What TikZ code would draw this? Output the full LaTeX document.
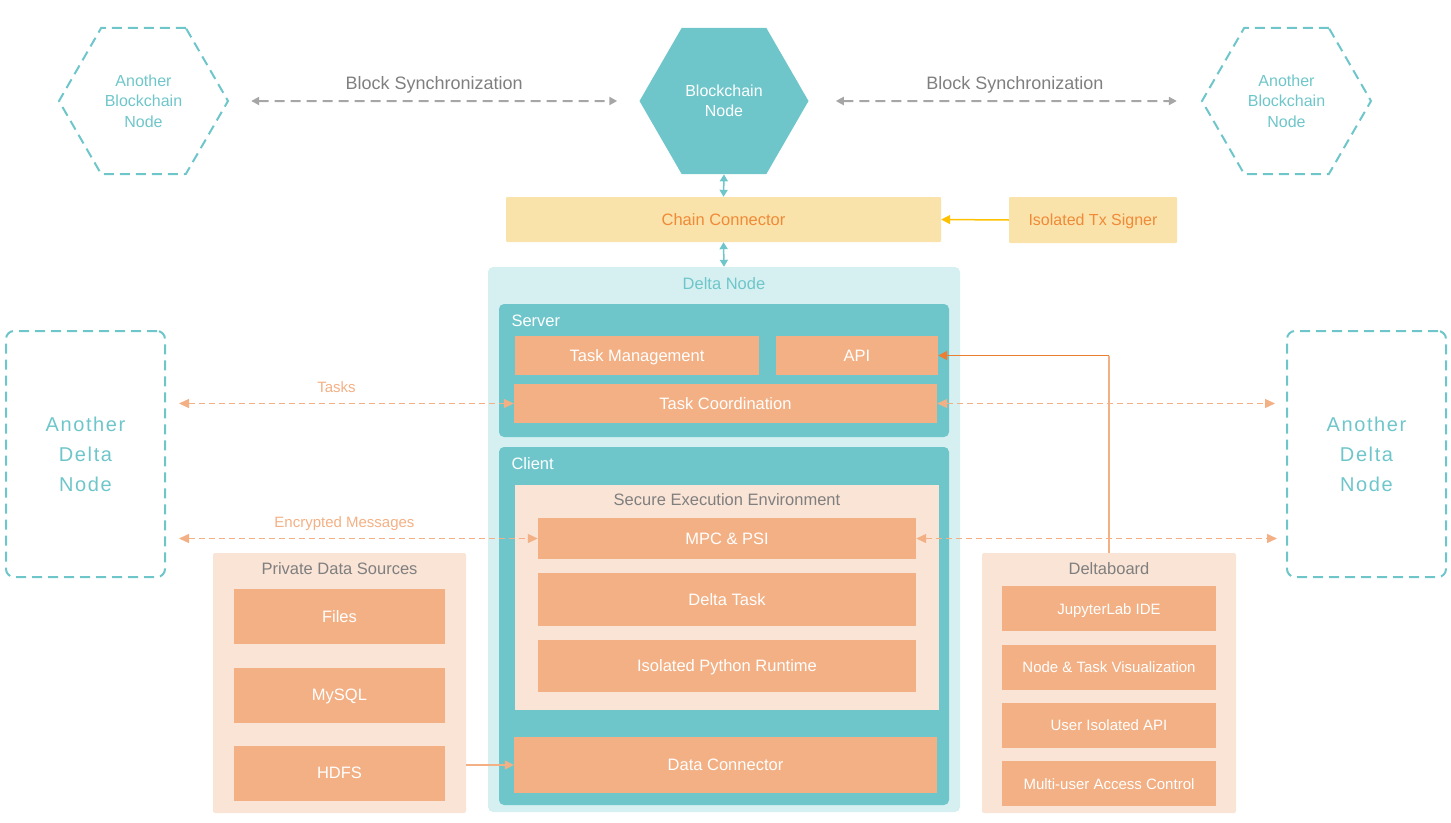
\documentclass[tikz,border=0pt]{standalone}
\usepackage{fontspec}
\setmainfont{Liberation Sans}
\newfontfamily\widefont[LetterSpace=8]{Liberation Sans}
\usetikzlibrary{shapes.geometric,arrows.meta,positioning}
\definecolor{dteal}{HTML}{6EC6CA}
\definecolor{dlteal}{HTML}{D6F0F1}
\definecolor{dpeach}{HTML}{F3B084}
\definecolor{dlpeach}{HTML}{FAE4D6}
\definecolor{dyellow}{HTML}{FAE3AA}
\definecolor{dorange}{HTML}{F08A38}
\definecolor{darrow}{HTML}{ED7D31}
\definecolor{dgold}{HTML}{FFC000}
\definecolor{dgrey}{HTML}{7F7F7F}
\definecolor{dsync}{HTML}{A6A6A6}
\begin{document}
\begin{tikzpicture}[x=1pt, y=-1pt, font=\fontsize{16.5}{20}\selectfont,
  hexa/.style={regular polygon, regular polygon sides=6, minimum size=169pt, inner sep=0pt,
    align=center, font=\fontsize{16}{20.5}\selectfont},
  cell/.style={fill=dpeach, text=white, inner sep=0pt, text height=12pt, text depth=0.5pt},
  panel/.style={fill=#1, rounded corners=5pt, inner sep=0pt},
  chainbox/.style={fill=dyellow, text=dorange, inner sep=0pt, rounded corners=1pt,
    text height=12pt, text depth=1pt},
  other/.style={draw=dteal, line width=2pt, dash pattern=on 10pt off 6pt, rounded corners=8pt,
    text=dteal, align=center, font=\widefont\fontsize{20}{30}\selectfont},
  sync/.style={draw=dsync, line width=2pt, dash pattern=on 10pt off 6pt,
    {Triangle[length=8pt,width=8pt]}-{Triangle[length=8pt,width=8pt]}},
  synctext/.style={above=3pt, text=dgrey, font=\fontsize{18}{20}\selectfont, text height=13pt, text depth=4pt},
  msg/.style={draw=dpeach, line width=1.2pt, dash pattern=on 6pt off 4pt,
    {Triangle[length=10pt,width=9pt]}-{Triangle[length=10pt,width=9pt]}},
  msgtext/.style={above=4pt, text=dpeach, font=\fontsize{15}{18}\selectfont, text height=11pt, text depth=3pt},
  link/.style={draw=dteal, line width=1.5pt,
    {Triangle[length=7pt,width=8pt]}-{Triangle[length=7pt,width=8pt]}}]
  \useasboundingbox (0,0) rectangle (1451,822);

  \node[hexa, draw=dteal, line width=2pt, dash pattern=on 10pt off 6pt, text=dteal] (lhex) at (143.5,101) {Another\\Blockchain\\Node};
  \node[hexa, fill=dteal, text=white] (bhex) at (724,101) {Blockchain\\Node};
  \node[hexa, draw=dteal, line width=2pt, dash pattern=on 10pt off 6pt, text=dteal] (rhex) at (1286.5,101) {Another\\Blockchain\\Node};

  \draw[sync] ([xshift=22pt]lhex.east) -- node[synctext]{Block Synchronization} ([xshift=-22pt]bhex.west);
  \draw[sync] ([xshift=27pt]bhex.east) -- node[synctext, pos=0.525]{Block Synchronization} ([xshift=-24pt]rhex.west);

  \node[chainbox, minimum width=435, minimum height=45] (chain) at (723.5,219.5) {Chain Connector};
  \node[chainbox, minimum width=168, minimum height=46, font=\fontsize{16}{20}\selectfont] (signer) at (1093,220) {Isolated Tx Signer};
  \draw[dgold, line width=1.5pt, -{Triangle[length=9pt,width=9pt]}] (signer.west) -- (chain.east);

  \node[panel=dlteal, minimum width=472, minimum height=545] (delta) at (724,539.5) {};
  \node[text=dteal] at (724,284) {Delta Node};
  \draw[link] (bhex.south) -- (chain.north);
  \draw[link] (chain.south) -- (delta.north);

  \node[panel=dteal, minimum width=450, minimum height=133] (server) at (724,370.5) {};
  \node[text=white, anchor=west] at (508,321) {Server};
  \node[cell, minimum width=244, minimum height=39] (tm) at (637,355.5) {Task Management};
  \node[cell, minimum width=162, minimum height=39] (api) at (857,355.5) {API};
  \node[cell, minimum width=423, minimum height=39] (tc) at (725.5,403.5) {Task Coordination};

  \node[panel=dteal, minimum width=450, minimum height=358] (client) at (724,626) {};
  \node[text=white, anchor=west] at (508,464) {Client};
  \node[fill=dlpeach, inner sep=0pt, minimum width=424, minimum height=225] (see) at (727,597.5) {};
  \node[text=dgrey] at (727,500) {Secure Execution Environment};
  \node[cell, minimum width=378, minimum height=41] (mpc) at (727,538.5) {MPC \& PSI};
  \node[cell, minimum width=378, minimum height=53] (dtask) at (727,599.5) {Delta Task};
  \node[cell, minimum width=378, minimum height=52] (pyrt) at (727,666) {Isolated Python Runtime};
  \node[cell, minimum width=423, minimum height=56] (dconn) at (725.5,765) {Data Connector};

  \node[panel=dlpeach, rounded corners=2pt, minimum width=253, minimum height=260] (pds) at (339.5,683) {};
  \node[text=dgrey] at (339.5,569) {Private Data Sources};
  \foreach \name/\y/\txt in {files/616.5/Files, mysql/695/MySQL, hdfs/773/HDFS}
    \node[cell, minimum width=211, minimum height=55] (\name) at (339.5,\y) {\txt};
  \draw[dpeach, line width=1.5pt, -{Triangle[length=9pt,width=9pt]}] (pds.east |- dconn.west) -- (dconn.west);

  \node[panel=dlpeach, rounded corners=2pt, minimum width=254, minimum height=260] (dboard) at (1109,683) {};
  \node[text=dgrey] at (1109,569) {Deltaboard};
  \foreach \name/\y/\txt in {ide/608.5/JupyterLab IDE, vis/667/Node \& Task Visualization,
      uapi/725/User Isolated API, acl/783.5/Multi-user Access Control}
    \node[cell, minimum width=214, minimum height=45, font=\fontsize{15}{18}\selectfont] (\name) at (1109,\y) {\txt};
  \draw[dpeach, line width=1.5pt] (dboard.north) -- (dboard.north |- api.east) coordinate (bend);
  \draw[darrow, line width=1.5pt, -{Triangle[length=9pt,width=9pt]}] (bend) -- (api.east);

  \node[other, minimum width=159, minimum height=246] (ldn) at (85.5,454) {Another\\Delta\\Node};
  \node[other, minimum width=159, minimum height=246] (rdn) at (1366.5,454) {Another\\Delta\\Node};

  \draw[msg, shorten <=13pt] (ldn.east |- tc.west) -- node[pos=0.49, msgtext]{Tasks} (tc.west);
  \draw[msg, shorten >=11pt] (tc.east) -- (rdn.west |- tc.east);
  \draw[msg, shorten <=13pt] (ldn.east |- mpc.west) -- node[pos=0.48, msgtext]{Encrypted Messages} (mpc.west);
  \draw[msg, shorten >=9pt] (mpc.east) -- (rdn.west |- mpc.east);
\end{tikzpicture}
\end{document}
